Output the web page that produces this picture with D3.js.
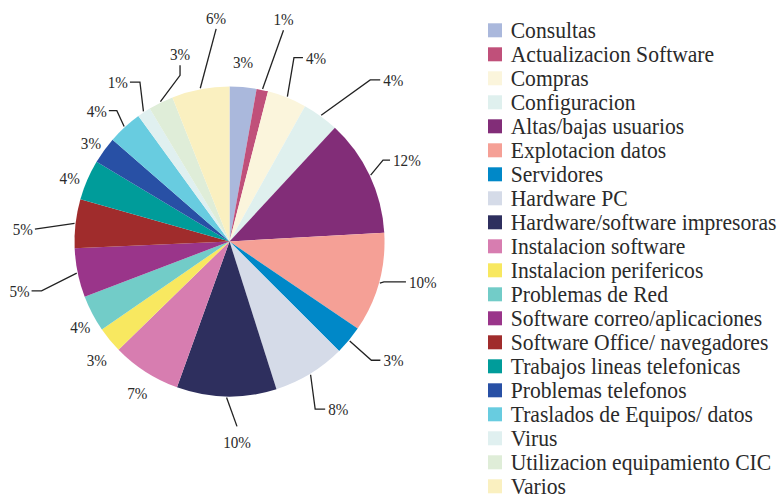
<!DOCTYPE html>
<html>
<head>
<meta charset="utf-8">
<script src="https://cdn.jsdelivr.net/npm/d3@7"></script>
<style>
  html, body { margin: 0; padding: 0; background: #fff; }
  svg { display: block; }
  text { font-family: "Liberation Serif", "Times New Roman", serif; fill: #2a2a2a; }
</style>
</head>
<body>
<svg id="chart" width="782" height="497"></svg>
<script>
// categories and their share of incidents (%)
const categories = [
  "Consultas", "Actualizacion Software", "Compras", "Configuracion",
  "Altas/bajas usuarios", "Explotacion datos", "Servidores", "Hardware PC",
  "Hardware/software impresoras", "Instalacion software", "Instalacion perifericos",
  "Problemas de Red", "Software correo/aplicaciones", "Software Office/ navegadores",
  "Trabajos lineas telefonicas", "Problemas telefonos", "Traslados de Equipos/ datos",
  "Virus", "Utilizacion equipamiento CIC", "Varios"
];
const values = [2.8, 1.2, 4.1, 3.8, 12.2, 10.4, 3.0, 7.6, 10.4, 7.2,
                2.7, 3.8, 5.1, 5.1, 4.2, 2.8, 3.6, 1.4, 2.6, 6.0];
const colors = [
  "#aab8dc", "#c0507a", "#fbf5dc", "#dff0ee", "#822d78", "#f5a096", "#0088c8",
  "#d5dbe8", "#2e2f5e", "#d77db0", "#f8e860", "#72ccc8", "#9a358a", "#a02c2c",
  "#009c9a", "#2850a5", "#68cce0", "#e0f0f0", "#dfedd8", "#faf0c0"
];

// label placement: angle shift from slice middle (deg), radius, leader side, tail length
const labelLayout = [
  { da: -0.7, r: 180, side: "none" },
  { da: 2.1,  r: 218, side: "t", tail: 0 },
  { da: 0,    r: 198, side: "r", tail: 9 },
  { da: 7,    r: 221, side: "r", tail: 10 },
  { da: -1.7, r: 180, side: "r", tail: 7 },
  { da: -2.6, r: 181, side: "r", tail: 22 },
  { da: -1.4, r: 192, side: "r", tail: 9 },
  { da: 1.6,  r: 193, side: "r", tail: 10 },
  { da: -3.4, r: 185, side: "b", tail: 0 },
  { da: -1.4, r: 177, side: "none" },
  { da: -2.4, r: 178, side: "none" },
  { da: -2.1, r: 172, side: "none" },
  { da: -2.3, r: 204, side: "l", tail: 10 },
  { da: -3,   r: 195, side: "l", tail: 0 },
  { da: -1.7, r: 172, side: "none" },
  { da: -0.6, r: 170, side: "none" },
  { da: -0.2, r: 178, side: "l", tail: 8 },
  { da: 1.5,  r: 188, side: "l", tail: 10 },
  { da: 10.6, r: 183, side: "t", tail: 10 },
  { da: 7.2,  r: 213, side: "t", tail: 0 }
];

const svg = d3.select("#chart");
const cx = 229.5, cy = 241.5, R = 155;

const total = d3.sum(values);
const slices = d3.pie().sort(null).value(d => d)(values);
const arc = d3.arc().innerRadius(0).outerRadius(R);

const g = svg.append("g").attr("transform", `translate(${cx},${cy})`);

g.selectAll("path.slice")
  .data(slices)
  .join("path")
  .attr("class", "slice")
  .attr("d", arc)
  .attr("fill", (d, i) => colors[i]);

// polar helper: angle in radians clockwise from 12 o'clock
const polar = (a, r) => [Math.sin(a) * r, -Math.cos(a) * r];
const rad = Math.PI / 180;

slices.forEach((d, i) => {
  const lay = labelLayout[i];
  const mid = (d.startAngle + d.endAngle) / 2;
  const [ax, ay] = polar(mid + lay.da * rad, lay.r);
  const pct = Math.round(d.value / total * 100) + "%";

  let tx = ax, ty = ay + 6, anchor = "middle";
  if (lay.side !== "none") {
    const p0 = polar(mid, R + 1);
    let elbow;
    if (lay.side === "r") { elbow = [ax - lay.tail, ay]; tx = ax + 3; anchor = "start"; }
    if (lay.side === "l") { elbow = [ax + lay.tail, ay]; tx = ax - 2; anchor = "end"; }
    if (lay.side === "t") { elbow = [ax, ay + lay.tail]; ty = ay - 5; }
    if (lay.side === "b") { elbow = [ax, ay - lay.tail]; ty = ay + 22; }
    g.append("path")
      .attr("d", d3.line()([p0, elbow, [ax, ay]]))
      .attr("fill", "none")
      .attr("stroke", "#222")
      .attr("stroke-width", 1.3);
  }
  g.append("text")
    .attr("transform", `translate(${tx},${ty}) scale(0.89,1)`)
    .attr("text-anchor", anchor)
    .style("font-size", "17px")
    .text(pct);
});

// legend
const legend = svg.append("g").attr("transform", "translate(488,23.3)");
const row = legend.selectAll("g")
  .data(categories)
  .join("g")
  .attr("transform", (d, i) => `translate(0,${i * 24})`);

row.append("rect")
  .attr("width", 14)
  .attr("height", 14)
  .attr("fill", (d, i) => colors[i]);

row.append("text")
  .attr("transform", "translate(22.7,14.2) scale(0.94,1)")
  .style("font-size", "23px")
  .text(d => d);
</script>
</body>
</html>
